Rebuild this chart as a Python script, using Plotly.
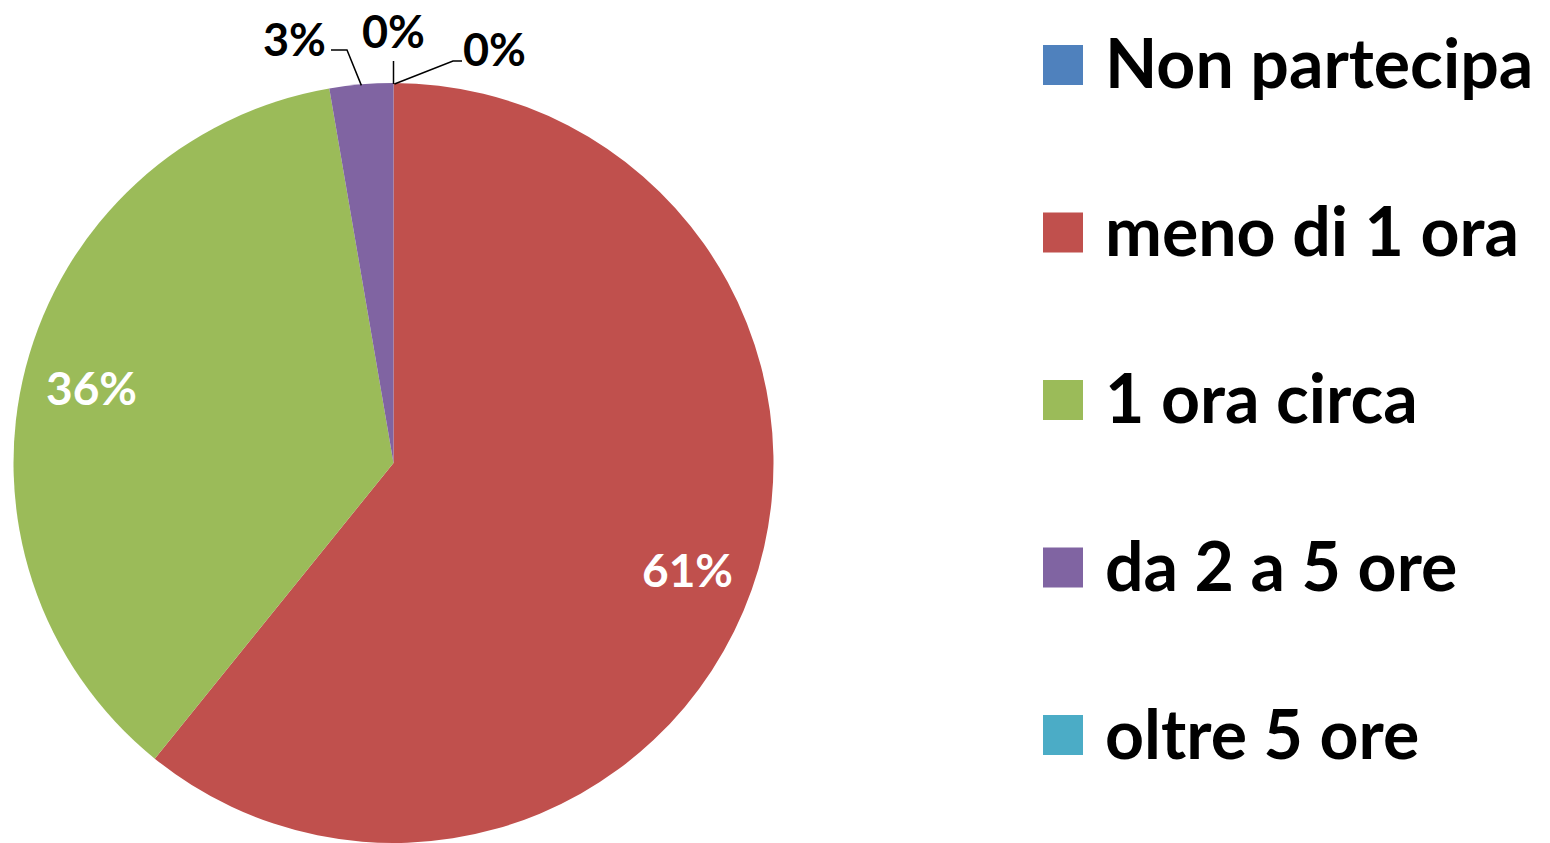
import math
import plotly.graph_objects as go

categories = ["Non partecipa", "meno di 1 ora", "1 ora circa", "da 2 a 5 ore", "oltre 5 ore"]
values = [0, 45, 27, 2, 0]
colors = ["#4F81BD", "#C0504D", "#9BBB59", "#8064A2", "#4BACC6"]

W, H = 1550, 843
FONT = "Lato"

# pie geometry (pixels)
cx, cy, R = 393.5, 463, 380
dom_x = [max(0, (cx - R) / W), min(1, (cx + R) / W)]
dom_y = [max(0, 1 - (cy + R) / H), min(1, 1 - (cy - R) / H)]

fig = go.Figure(go.Pie(
    labels=categories, values=values, sort=False, direction="clockwise", rotation=0,
    marker=dict(colors=colors, line=dict(width=0)),
    textinfo="none", hoverinfo="label+percent", showlegend=False,
    domain=dict(x=dom_x, y=dom_y),
))

def px(x):
    return x / W

def py(y):
    return 1 - y / H

annotations = []
shapes = []
total = sum(values)
cum = 0
mids = []
for v in values:
    frac = v / total
    mids.append((cum + frac / 2) * 2 * math.pi)
    cum += frac

def pct(v):
    return f"{round(100 * v / total):.0f}%"

def rim(a, r=R):
    return cx + r * math.sin(a), cy - r * math.cos(a)

def ann(x, y, text, font, xanchor="center"):
    annotations.append(dict(x=px(x), y=py(y), xref="paper", yref="paper", text=text,
                            xanchor=xanchor, yanchor="middle", showarrow=False, font=font))

# inside labels for big slices
in_fmt = dict(family=FONT, size=46, color="white", weight="bold")
for i, v in enumerate(values):
    if v / total > 0.1:
        x, y = rim(mids[i], 0.82 * R)
        ann(x, y + 3, pct(v), in_fmt)

# outside labels for small slices with leader lines
def leader(points):
    d = "M " + " L ".join(f"{px(x)} {py(y)}" for x, y in points)
    shapes.append(dict(type="path", path=d, xref="paper", yref="paper", line=dict(color="black", width=1.5)))

small_fmt = dict(family=FONT, size=45, color="black", weight="bold")
# index 3: da 2 a 5 ore
x0, y0 = rim(mids[3], R - 1)
leader([(x0, y0), (347, 50), (331, 50)])
ann(328, 39, pct(values[3]), small_fmt, xanchor="right")
# index 0: Non partecipa
x0, y0 = rim(mids[0], R - 1)
leader([(x0, y0), (x0, 61)])
ann(x0, 31, pct(values[0]), small_fmt)
# index 4: oltre 5 ore
x0, y0 = rim(mids[4], R - 1)
leader([(x0 + 1, y0), (453, 61), (462, 61)])
ann(461, 49, pct(values[4]), small_fmt, xanchor="left")

# manual legend
leg_y0, leg_step = 65, 167.5
leg_fmt = dict(family=FONT, size=68, color="black", weight="bold")
for i, (cat, col) in enumerate(zip(categories, colors)):
    yc = leg_y0 + i * leg_step
    shapes.append(dict(type="rect", xref="paper", yref="paper",
                       x0=px(1043), x1=px(1083), y0=py(yc + 20), y1=py(yc - 20),
                       fillcolor=col, line=dict(width=0)))
    ann(1103, yc - 3, cat, leg_fmt, xanchor="left")

fig.update_layout(
    width=W, height=H, margin=dict(l=0, r=0, t=0, b=0),
    paper_bgcolor="white", plot_bgcolor="white",
    annotations=annotations, shapes=shapes, showlegend=False,
)
fig.write_html("out.html", config={"displayModeBar": False},
               post_script="document.body.style.margin='0';")
